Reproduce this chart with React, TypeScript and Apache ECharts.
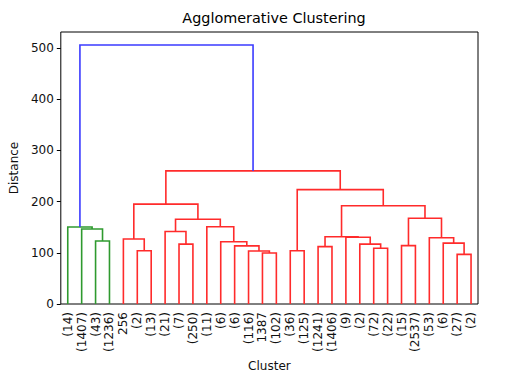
import React, { useEffect, useRef } from "react";
import * as echarts from "echarts";

const leafLabels = [
  "(14)", "(1407)", "(43)", "(1236)", "256", "(2)", "(13)", "(21)", "(7)", "(250)",
  "(11)", "(6)", "(6)", "(116)", "1387", "(102)", "(36)", "(125)", "(1241)", "(1406)",
  "(9)", "(2)", "(72)", "(22)", "(15)", "(2537)", "(53)", "(6)", "(27)", "(2)",
];

// Linkage (leaf ids 0..29, merged cluster ids 30 + k)
const mergeLeft = [2, 1, 0, 5, 4, 8, 7, 14, 13, 12, 11, 10, 36, 34, 16, 18, 22, 21, 20, 45, 24, 28, 27, 26, 50, 49, 44, 43, 32];
const mergeRight = [3, 30, 31, 6, 33, 9, 35, 15, 37, 38, 39, 40, 41, 42, 17, 19, 23, 46, 47, 48, 25, 29, 51, 52, 53, 54, 55, 56, 57];
const mergeHeight = [123, 146.5, 150.5, 104, 127, 117, 141.5, 99.5, 103.5, 113.5, 121.5, 151, 165.5, 195, 104, 112, 109, 117, 130.5, 131.5, 114, 97, 119, 129.5, 167.5, 192, 223.5, 260, 506];

const yTickValues = [0, 100, 200, 300, 400, 500];
const clusterColors = ["#2f9a2f", "#ff2b2b"];
const aboveColor = "#3b3bff";

export default function App() {
  const ref = useRef<HTMLDivElement>(null);
  useEffect(() => {
    document.body.style.margin = "0";
    if (!ref.current) return;
    const chart = echarts.init(ref.current, null, { renderer: "svg" });

    const n = leafLabels.length;
    const pos: number[] = [];
    const ht: number[] = [];
    for (let i = 0; i < n; i++) { pos.push(10 * i + 5); ht.push(0); }
    mergeHeight.forEach((h, k) => {
      pos.push((pos[mergeLeft[k]] + pos[mergeRight[k]]) / 2);
      ht.push(h);
    });
    const maxH = Math.max(...mergeHeight);
    const threshold = 0.7 * maxH;
    const nodeColor: number[] = new Array(n + mergeHeight.length).fill(-1);
    let nextColor = 0;
    const paint = (id: number, c: number) => {
      if (id < n) return;
      const k = id - n;
      let cc = c;
      if (cc === -1 && mergeHeight[k] < threshold) { cc = nextColor++; }
      nodeColor[id] = cc;
      paint(mergeLeft[k], cc);
      paint(mergeRight[k], cc);
    };
    paint(n + mergeHeight.length - 1, -1);

    const linkData = mergeHeight.map((h, k) => {
      const l = mergeLeft[k];
      const r = mergeRight[k];
      return [pos[l], ht[l], pos[r], ht[r], h, nodeColor[n + k]];
    });

    const font = "DejaVu Sans";
    chart.setOption({
      animation: false,
      title: {
        text: "Agglomerative Clustering",
        left: 269,
        top: 6,
        textAlign: "center",
        textStyle: { fontFamily: font, fontSize: 14.4, fontWeight: "normal", color: "#000" },
      },
      grid: {
        left: 60, right: 31, top: 32, bottom: 85,
        show: true, borderColor: "#000", borderWidth: 1, backgroundColor: "transparent",
      },
      xAxis: [
        {
          type: "category",
          data: leafLabels,
          boundaryGap: true,
          axisLine: { show: false },
          axisTick: { show: false },
          splitLine: { show: false },
          axisLabel: { interval: 0, rotate: 90, fontFamily: font, fontSize: 12, color: "#111", margin: 8 },
          name: "Cluster",
          nameLocation: "middle",
          nameGap: 53,
          nameTextStyle: { fontFamily: font, fontSize: 12, color: "#111" },
        },
        {
          type: "value",
          min: 0,
          max: 10 * leafLabels.length,
          show: false,
        },
      ],
      yAxis: {
        type: "value",
        min: 0,
        max: maxH * 1.05,
        axisLine: { show: false },
        splitLine: { show: false },
        axisTick: { show: true, length: 4, customValues: yTickValues, lineStyle: { color: "#000" } },
        axisLabel: { customValues: yTickValues, fontFamily: font, fontSize: 12, color: "#111", margin: 7 },
        name: "Distance",
        nameLocation: "middle",
        nameGap: 37,
        nameTextStyle: { fontFamily: font, fontSize: 12, color: "#111" },
      },
      series: [
        {
          type: "custom",
          xAxisIndex: 1,
          yAxisIndex: 0,
          data: linkData,
          encode: { x: [0, 2], y: [1, 3, 4] },
          renderItem: (params: any, api: any) => {
            const xl = api.value(0), hl = api.value(1), xr = api.value(2), hr = api.value(3), h = api.value(4);
            const ci = api.value(5);
            const pts = [
              api.coord([xl, hl]),
              api.coord([xl, h]),
              api.coord([xr, h]),
              api.coord([xr, hr]),
            ];
            return {
              type: "polyline",
              shape: { points: pts },
              style: { stroke: ci < 0 ? aboveColor : clusterColors[ci % clusterColors.length], lineWidth: 1.6, fill: null },
            };
          },
        },
      ],
    });
    return () => chart.dispose();
  }, []);
  return <div ref={ref} style={{ width: 509, height: 389 }} />;
}
